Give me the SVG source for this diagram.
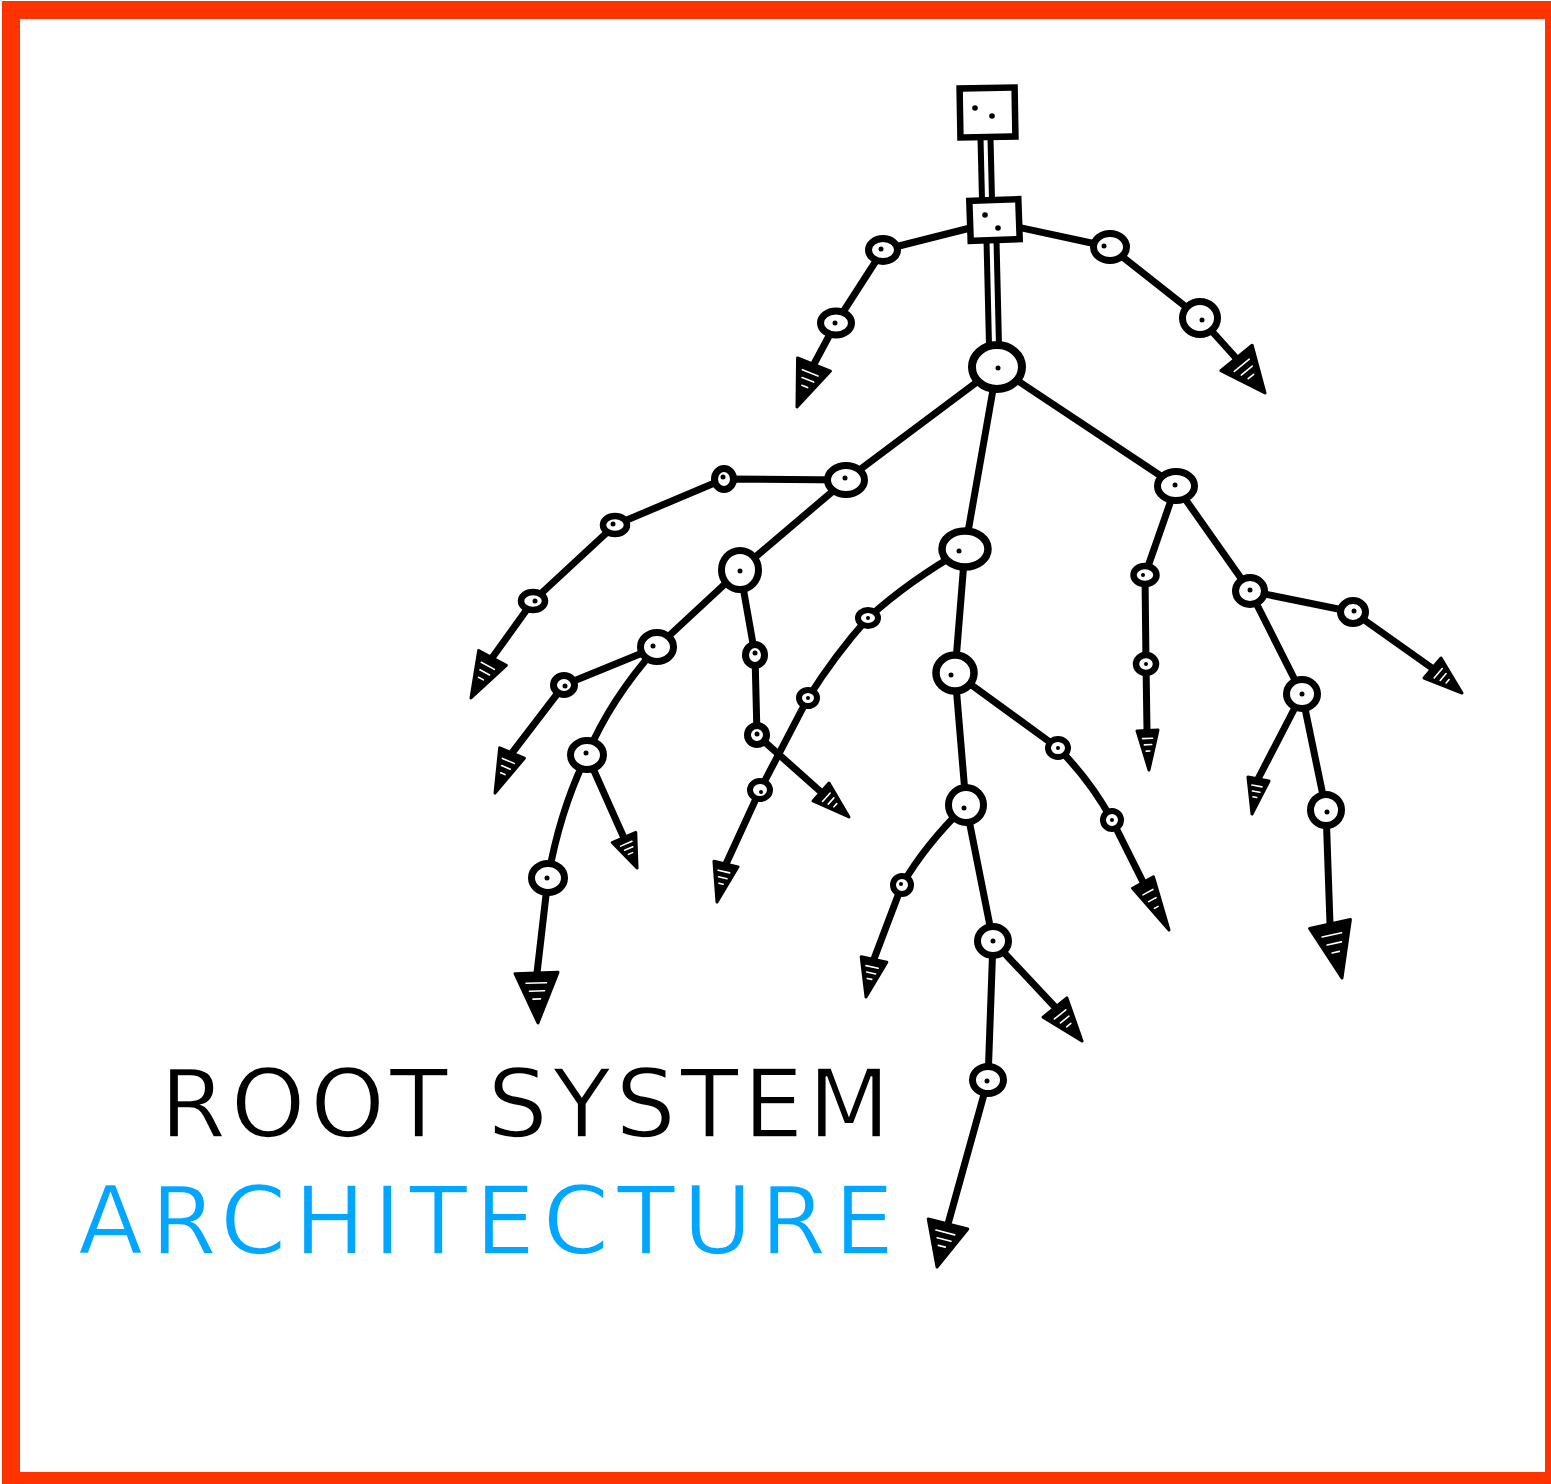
<svg xmlns="http://www.w3.org/2000/svg" xmlns:xlink="http://www.w3.org/1999/xlink" width="1551" height="1484" viewBox="0 0 1551 1484">
  <style>
    .edge { fill: none; stroke: #000; stroke-width: 7; stroke-linecap: round; stroke-linejoin: round; }
    .node { fill: #fff; stroke: #000; }
    .dot { fill: #000; }
    .stem-out { stroke: #000; stroke-width: 16; fill: none; }
    .stem-in { stroke: #fff; stroke-width: 4; fill: none; }
    .title { font-family: "DejaVu Sans", "Liberation Sans", sans-serif; font-weight: 400; font-size: 95px; stroke: #fff; stroke-width: 1.6; }
  </style>

  <defs>
    <!-- unit arrowhead: base on y=0 from x=-1 to 1, tip at (0,1) -->
    <g id="tip">
      <polygon points="-1,0 1,0 0,1" fill="#000" stroke="#000" stroke-width="3" stroke-linejoin="round" vector-effect="non-scaling-stroke"/>
      <g stroke="#fff" stroke-width="1.6" stroke-linecap="round" vector-effect="non-scaling-stroke">
        <line x1="-0.5" y1="0.2" x2="0.45" y2="0.2" vector-effect="non-scaling-stroke"/>
        <line x1="-0.35" y1="0.36" x2="0.35" y2="0.36" vector-effect="non-scaling-stroke"/>
        <line x1="-0.2" y1="0.52" x2="0.15" y2="0.52" vector-effect="non-scaling-stroke"/>
      </g>
    </g>
  </defs>

  <rect width="1551" height="1484" fill="#fff"/>
  <!-- frame -->
  <path d="M2 1 H1551 V1484 H2 Z M20 19 V1472 H1545 V19 Z" fill="#FF3300" fill-rule="evenodd"/>

  <!-- connectors -->
  <g id="connectors">
    <!-- stems between the square nodes -->
    <path class="stem-out" d="M985.5 138 L987 200"/>
    <path class="stem-in" d="M985.5 138 L987 200"/>
    <path class="stem-out" d="M991.5 240 L994 345"/>
    <path class="stem-in" d="M991.5 240 L994 345"/>

    <path class="edge" d="M994 222 L883 250 L836 323 L814 364"/>
    <path class="edge" d="M994 222 L1110 247 L1200 318 L1236 358"/>

    <path class="edge" d="M997 367 L846 480 L724 479 L615 525 L533 601 L492 658"/>
    <path class="edge" d="M846 480 L740 570 L755 655 L757 735 L821 792"/>
    <path class="edge" d="M740 570 L657 647 L564 685 L512 753"/>
    <path class="edge" d="M657 647 Q610 700 587 755 Q560 810 548 878 L537 973"/>
    <path class="edge" d="M587 755 L624 838"/>

    <path class="edge" d="M997 367 L965 549"/>
    <path class="edge" d="M965 549 Q910 580 868 618 Q835 655 808 698 L760 790 L726 864"/>
    <path class="edge" d="M965 549 L955 673 L966 805 L993 941 L988 1080 L948 1224"/>
    <path class="edge" d="M955 673 L1058 748 Q1090 780 1112 820 L1143 882"/>
    <path class="edge" d="M966 805 Q925 845 902 885 L874 959"/>
    <path class="edge" d="M993 941 L1055 1007"/>

    <path class="edge" d="M997 367 L1176 486 L1145 575 L1146 664 L1147 730"/>
    <path class="edge" d="M1176 486 L1250 591 L1353 612 L1432 668"/>
    <path class="edge" d="M1250 591 L1302 694 L1326 810 L1330 924"/>
    <path class="edge" d="M1302 694 L1258 779"/>

    <!-- arrowheads: translate to base centre, rotate along the root, scale (half-width, length) -->
    <use xlink:href="#tip" transform="translate(814 364.5) rotate(21.8) scale(17.7 45.8)"/>
    <use xlink:href="#tip" transform="translate(1236.5 358) rotate(-39.2) scale(20.2 45.1)"/>
    <use xlink:href="#tip" transform="translate(492.5 658) rotate(28.3) scale(15.7 45.4)"/>
    <use xlink:href="#tip" transform="translate(512 753) rotate(23) scale(13.4 43.5)"/>
    <use xlink:href="#tip" transform="translate(536.5 973) rotate(-1.7) scale(21.5 50)"/>
    <use xlink:href="#tip" transform="translate(624 837.5) rotate(-23.1) scale(12.8 33.2)"/>
    <use xlink:href="#tip" transform="translate(821 792) rotate(-48.2) scale(12 37.5)"/>
    <use xlink:href="#tip" transform="translate(726 864) rotate(13.3) scale(12.4 39.1)"/>
    <use xlink:href="#tip" transform="translate(1143 882.5) rotate(-28.7) scale(11.9 54.2)"/>
    <use xlink:href="#tip" transform="translate(874 959.5) rotate(12) scale(13.1 38.3)"/>
    <use xlink:href="#tip" transform="translate(1055 1007.5) rotate(-38.9) scale(15.3 43)"/>
    <use xlink:href="#tip" transform="translate(948 1224) rotate(14.3) scale(20.4 44.4)"/>
    <use xlink:href="#tip" transform="translate(1147.5 730.5) rotate(-2.2) scale(10.5 39.5)"/>
    <use xlink:href="#tip" transform="translate(1432.5 668) rotate(-49.7) scale(13.1 38.7)"/>
    <use xlink:href="#tip" transform="translate(1258.5 779) rotate(10.5) scale(10.7 35.6)"/>
    <use xlink:href="#tip" transform="translate(1330 924) rotate(-12.5) scale(20.9 55.3)"/>
  </g>

  <!-- nodes -->
  <g id="sq1">
    <rect class="node" x="960" y="88" width="55" height="49" stroke-width="6.5" transform="rotate(-1 987 112)"/>
    <circle class="dot" cx="975" cy="108" r="2.8"/>
    <circle class="dot" cx="992" cy="116" r="2.8"/>
  </g>
  <g id="sq2">
    <rect class="node" x="970" y="200" width="49" height="40" stroke-width="6.5" transform="rotate(-2 994 220)"/>
    <circle class="dot" cx="985" cy="215" r="2.8"/>
    <circle class="dot" cx="998" cy="228" r="2.8"/>
  </g>

  <g id="n-top"><ellipse class="node" cx="997" cy="367" rx="25" ry="22" stroke-width="8"/><circle class="dot" cx="998" cy="368" r="2.5"/></g>

  <g id="n-u1"><ellipse class="node" cx="883" cy="250" rx="14.5" ry="11.5" stroke-width="7"/><circle class="dot" cx="881" cy="249" r="2.5"/></g>
  <g id="n-u2"><ellipse class="node" cx="836" cy="323" rx="15.5" ry="12" stroke-width="7"/><circle class="dot" cx="835" cy="323" r="2.5"/></g>
  <g id="n-u3"><ellipse class="node" cx="1110" cy="247" rx="16.5" ry="13.5" stroke-width="7"/><circle class="dot" cx="1104" cy="246" r="2.5"/></g>
  <g id="n-u4"><ellipse class="node" cx="1200" cy="318" rx="17.5" ry="16.5" stroke-width="7"/><circle class="dot" cx="1202" cy="320" r="2.5"/></g>

  <g id="n-a"><ellipse class="node" cx="846" cy="480" rx="18.5" ry="14.5" stroke-width="7"/><circle class="dot" cx="845" cy="478" r="2.5"/></g>
  <g id="n-a1"><ellipse class="node" cx="724" cy="479" rx="9.5" ry="10.5" stroke-width="7"/><circle class="dot" cx="723" cy="477" r="2.5"/></g>
  <g id="n-a2"><ellipse class="node" cx="615" cy="525" rx="12" ry="9" stroke-width="6.5"/><circle class="dot" cx="613" cy="524" r="2.5"/></g>
  <g id="n-a3"><ellipse class="node" cx="533" cy="601" rx="12" ry="9" stroke-width="6.5"/><circle class="dot" cx="535" cy="601" r="2.5"/></g>

  <g id="n-b"><ellipse class="node" cx="740" cy="570" rx="18.5" ry="19.5" stroke-width="7"/><circle class="dot" cx="740" cy="571" r="2.5"/></g>
  <g id="n-b1"><ellipse class="node" cx="755" cy="655" rx="9.5" ry="10.5" stroke-width="7"/><circle class="dot" cx="755" cy="653" r="2.5"/></g>
  <g id="n-b2"><ellipse class="node" cx="757" cy="735" rx="9.5" ry="9.5" stroke-width="7"/><circle class="dot" cx="757" cy="734" r="2.5"/></g>

  <g id="n-c"><ellipse class="node" cx="657" cy="647" rx="16.5" ry="14.5" stroke-width="7"/><circle class="dot" cx="653" cy="646" r="2.5"/></g>
  <g id="n-c1"><ellipse class="node" cx="564" cy="685" rx="10.5" ry="9.5" stroke-width="7"/><circle class="dot" cx="565" cy="686" r="2.5"/></g>
  <g id="n-d"><ellipse class="node" cx="587" cy="755" rx="16.5" ry="14.5" stroke-width="7"/><circle class="dot" cx="586" cy="753" r="2.5"/></g>
  <g id="n-d1"><ellipse class="node" cx="548" cy="878" rx="16.5" ry="14.5" stroke-width="7"/><circle class="dot" cx="547" cy="878" r="2.5"/></g>

  <g id="n-e"><ellipse class="node" cx="965" cy="549" rx="23" ry="18" stroke-width="7.5"/><circle class="dot" cx="959" cy="551" r="2.5"/></g>
  <g id="n-e1"><ellipse class="node" cx="868" cy="618" rx="10" ry="8" stroke-width="6"/><circle class="dot" cx="868" cy="618" r="2"/></g>
  <g id="n-e2"><ellipse class="node" cx="808" cy="698" rx="9" ry="8" stroke-width="6"/><circle class="dot" cx="808" cy="698" r="2"/></g>
  <g id="n-e3"><ellipse class="node" cx="760" cy="790" rx="10" ry="9" stroke-width="6"/><circle class="dot" cx="761" cy="792" r="2"/></g>

  <g id="n-f"><ellipse class="node" cx="955" cy="673" rx="19" ry="18" stroke-width="7.5"/><circle class="dot" cx="951" cy="675" r="2.5"/></g>
  <g id="n-f1"><ellipse class="node" cx="1058" cy="748" rx="10" ry="9" stroke-width="6"/><circle class="dot" cx="1058" cy="748" r="2"/></g>
  <g id="n-f2"><ellipse class="node" cx="1112" cy="820" rx="9" ry="9" stroke-width="6"/><circle class="dot" cx="1112" cy="820" r="2"/></g>

  <g id="n-g"><ellipse class="node" cx="966" cy="805" rx="17.5" ry="17.5" stroke-width="7"/><circle class="dot" cx="964" cy="808" r="2.5"/></g>
  <g id="n-g1"><ellipse class="node" cx="902" cy="885" rx="9" ry="9" stroke-width="6"/><circle class="dot" cx="901" cy="884" r="2"/></g>
  <g id="n-h"><ellipse class="node" cx="993" cy="941" rx="15.5" ry="14.5" stroke-width="7"/><circle class="dot" cx="993" cy="941" r="2.5"/></g>
  <g id="n-i"><ellipse class="node" cx="988" cy="1080" rx="15.5" ry="13.5" stroke-width="7"/><circle class="dot" cx="987" cy="1081" r="2.5"/></g>

  <g id="n-k"><ellipse class="node" cx="1176" cy="486" rx="18.5" ry="14.5" stroke-width="7"/><circle class="dot" cx="1175" cy="485" r="2.5"/></g>
  <g id="n-k1"><ellipse class="node" cx="1145" cy="575" rx="11.5" ry="9" stroke-width="6.5"/><circle class="dot" cx="1143" cy="575" r="2"/></g>
  <g id="n-k2"><ellipse class="node" cx="1146" cy="664" rx="10" ry="9" stroke-width="6.5"/><circle class="dot" cx="1146" cy="664" r="2"/></g>
  <g id="n-m"><ellipse class="node" cx="1250" cy="591" rx="14.5" ry="13.5" stroke-width="7"/><circle class="dot" cx="1250" cy="590" r="2.5"/></g>
  <g id="n-m1"><ellipse class="node" cx="1353" cy="612" rx="12.5" ry="11.5" stroke-width="7"/><circle class="dot" cx="1354" cy="611" r="2.5"/></g>
  <g id="n-n"><ellipse class="node" cx="1302" cy="694" rx="15.5" ry="14.5" stroke-width="7"/><circle class="dot" cx="1302" cy="694" r="2.5"/></g>
  <g id="n-n1"><ellipse class="node" cx="1326" cy="810" rx="15.5" ry="15.5" stroke-width="7"/><circle class="dot" cx="1327" cy="812" r="2.5"/></g>

  <!-- title -->
  <g id="title">
    <text class="title" x="160" y="1137" fill="#000" textLength="730" lengthAdjust="spacing">ROOT SYSTEM</text>
    <text class="title" x="78" y="1254" fill="#00A6FF" textLength="816" lengthAdjust="spacing">ARCHITECTURE</text>
  </g>
</svg>
